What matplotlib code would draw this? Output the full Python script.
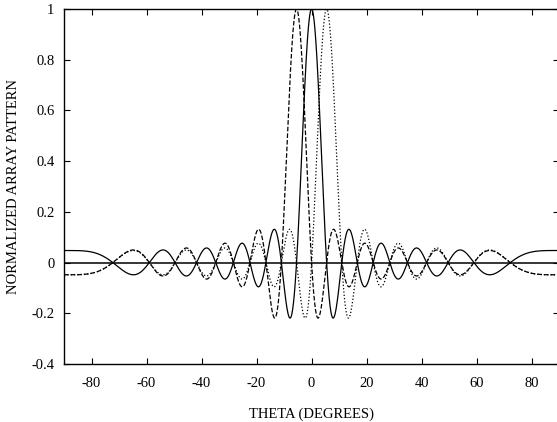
#!/usr/bin/env python
# -*- coding: utf-8 -*-
"""
Normalized array factor of a uniform linear array with three steered beams.
"""
import numpy as np
import matplotlib

matplotlib.use("Agg")
import matplotlib.pyplot as plt
from matplotlib.ticker import FormatStrFormatter

plt.rcParams["font.family"] = ["Liberation Serif", "DejaVu Serif"]
plt.rcParams["axes.unicode_minus"] = False

# array description
num_elements = 21
spacing_wl = 0.5  # element spacing in wavelengths
beam_angles = [-5.47, 0.0, 5.47]  # steering directions (degrees)
beam_styles = ["--", "-", ":"]

# axis settings
x_ticks = [-80, -60, -40, -20, 0, 20, 40, 60, 80]
y_ticks = [-0.4, -0.2, 0, 0.2, 0.4, 0.6, 0.8, 1]
x_label = "THETA (DEGREES)"
y_label = "NORMALIZED ARRAY PATTERN"


def array_factor(theta_deg, steer_deg):
    """ normalized array factor sin(N psi/2) / (N sin(psi/2)) """
    u = np.sin(np.radians(theta_deg)) - np.sin(np.radians(steer_deg))
    half_psi = np.pi * spacing_wl * u
    num = np.sin(num_elements * half_psi)
    den = num_elements * np.sin(half_psi)
    out = np.ones_like(half_psi)
    ok = np.abs(den) > 1e-12
    out[ok] = num[ok] / den[ok]
    return out


fig = plt.figure(figsize=(5.57, 4.22), dpi=100)
ax = fig.add_axes([0.1149, 0.1374, 0.889, 0.8413])

theta = np.linspace(-90, 90, 3601)
for angle, style in zip(beam_angles, beam_styles):
    ax.plot(theta, array_factor(theta, angle), color="black", linestyle=style, linewidth=0.9)
ax.axhline(0, color="black", linewidth=1.1)

ax.set_xlim(-90, 90)
ax.set_ylim(-0.4, 1)
ax.set_xticks(x_ticks)
ax.set_yticks(y_ticks)
ax.yaxis.set_major_formatter(FormatStrFormatter("%g"))
ax.tick_params(direction="in", top=True, right=True, length=4, width=0.8,
               labelsize=10.5, pad=7)
ax.tick_params(axis="x", pad=9)
for spine in ax.spines.values():
    spine.set_linewidth(1.0)

ax.set_xlabel(x_label, fontsize=10.5, labelpad=13)
ax.set_ylabel(y_label, fontsize=10.5, labelpad=8)

fig.savefig("out.png", dpi=100)
